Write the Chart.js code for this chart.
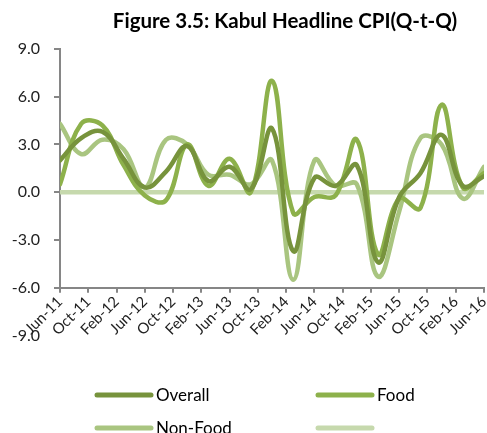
<!DOCTYPE html>
<html>
<head>
<meta charset="utf-8">
<script src="https://cdn.jsdelivr.net/npm/chart.js@4"></script>
<style>
  body { margin: 0; background: #fff; }
  canvas { display: block; }
</style>
</head>
<body>
<canvas id="grafico" width="487" height="433"></canvas>
<script>
// quarterly observations, Jun-11 .. Jun-16
const quarters = ['Jun-11', 'Sep-11', 'Dec-11', 'Mar-12', 'Jun-12', 'Sep-12', 'Dec-12', 'Mar-13',
    'Jun-13', 'Sep-13', 'Dec-13', 'Mar-14', 'Jun-14', 'Sep-14', 'Dec-14', 'Mar-15',
    'Jun-15', 'Sep-15', 'Dec-15', 'Mar-16', 'Jun-16'];

const overall = [2.0, 3.4, 3.8, 2.1, 0.3, 1.3, 2.9, 0.7, 1.6, 0.2, 4.0, -3.7, 0.9, 0.4, 1.7, -4.4, -0.3, 1.2, 3.6, 0.4, 1.0];
const food = [0.5, 4.3, 4.2, 1.7, -0.2, -0.5, 3.0, 0.4, 2.1, 0.0, 7.0, -1.3, -0.3, -0.2, 3.3, -3.9, -0.4, -1.0, 5.5, 0.3, 1.2];
const nonFood = [4.3, 2.4, 3.3, 2.7, 0.3, 3.3, 3.0, 1.1, 1.1, 0.5, 2.0, -5.5, 2.0, 0.4, 0.5, -5.3, -1.2, 3.4, 3.0, -0.4, 1.6];
const zeroLine = [0, 0, 0, 0, 0, 0, 0, 0, 0, 0, 0, 0, 0, 0, 0, 0, 0, 0, 0, 0, 0];

// axis labels, one every 4 months
const tickLabels = ['Jun-11', 'Oct-11', 'Feb-12', 'Jun-12', 'Oct-12', 'Feb-13', 'Jun-13', 'Oct-13',
    'Feb-14', 'Jun-14', 'Oct-14', 'Feb-15', 'Jun-15', 'Oct-15', 'Feb-16', 'Jun-16'];
const yTicks = [-9, -6, -3, 0, 3, 6, 9];

const fonte = 'Lato, "Open Sans", sans-serif';

// months since Jun-11 for each quarter
function pontos(valores) {
    return valores.map((v, i) => ({ x: i * 3, y: v }));
}

function serie(label, valores, cor) {
    return {
        label: label,
        data: pontos(valores),
        borderColor: cor,
        backgroundColor: cor,
        borderWidth: 4.5,
        pointRadius: 0,
        tension: 0.4,
        fill: false,
        borderCapStyle: 'round'
    };
}

// titulo, legenda e o rotulo -9.0 abaixo do eixo
const extras = {
    id: 'extras',
    afterDraw(chart) {
        const ctx = chart.ctx;
        const y = chart.scales.y;
        ctx.save();
        ctx.fillStyle = '#000';
        ctx.font = 'bold 20.5px ' + fonte;
        ctx.textAlign = 'center';
        ctx.textBaseline = 'middle';
        ctx.fillText('Figure 3.5: Kabul Headline CPI(Q-t-Q)', 285, 21);

        // -9.0 sits one step below the axis
        const passo = y.getPixelForValue(-6) - y.getPixelForValue(-3);
        ctx.font = '16px ' + fonte;
        ctx.textAlign = 'right';
        ctx.fillStyle = '#222';
        ctx.fillText(yTicks[0].toFixed(1), 40, y.getPixelForValue(-6) + passo);

        // legend 2x2
        const itens = chart.data.datasets;
        const cols = [95, 316];
        const rows = [395, 428];
        ctx.font = '17px ' + fonte;
        ctx.textAlign = 'left';
        itens.forEach((ds, i) => {
            const x = cols[i % 2];
            const yy = rows[Math.floor(i / 2)];
            ctx.strokeStyle = ds.borderColor;
            ctx.lineWidth = 5;
            ctx.lineCap = 'round';
            ctx.beginPath();
            ctx.moveTo(x + 2, yy);
            ctx.lineTo(x + 56, yy);
            ctx.stroke();
            ctx.fillStyle = '#000';
            ctx.fillText(ds.label, x + 61, yy + 1);
        });
        ctx.restore();
    }
};

const ctx = document.getElementById('grafico').getContext('2d');
new Chart(ctx, {
    type: 'line',
    data: {
        datasets: [
            serie('Overall', overall, '#77933c'),
            serie('Food', food, '#8db14b'),
            serie('Non-Food', nonFood, '#a9c580'),
            serie('', zeroLine, '#c6d9ad')
        ]
    },
    options: {
        responsive: false,
        animation: false,
        layout: { padding: { top: 49, left: 8, right: 3, bottom: 94 } },
        plugins: {
            legend: { display: false },
            title: { display: false },
            tooltip: { enabled: false }
        },
        scales: {
            x: {
                type: 'linear',
                min: 0,
                max: 60,
                grid: { drawOnChartArea: false, drawTicks: true, tickLength: 5, color: '#868686', lineWidth: 2 },
                border: { color: '#868686', width: 2 },
                ticks: {
                    stepSize: 4,
                    autoSkip: false,
                    maxRotation: 45,
                    minRotation: 45,
                    padding: 0,
                    color: '#222',
                    font: { family: fonte, size: 15 },
                    callback: v => tickLabels[v / 4]
                },
                afterFit: s => { s.paddingLeft = 0; s.paddingRight = 0; }
            },
            y: {
                min: -6,
                max: 9,
                grid: { drawOnChartArea: false, drawTicks: true, tickLength: 6, color: '#868686', lineWidth: 2 },
                border: { color: '#868686', width: 2 },
                ticks: {
                    stepSize: 3,
                    padding: 14,
                    color: '#222',
                    font: { family: fonte, size: 16 },
                    callback: v => v.toFixed(1)
                },
                afterFit: s => { s.width = 52; }
            }
        }
    },
    plugins: [extras]
});
</script>
</body>
</html>
